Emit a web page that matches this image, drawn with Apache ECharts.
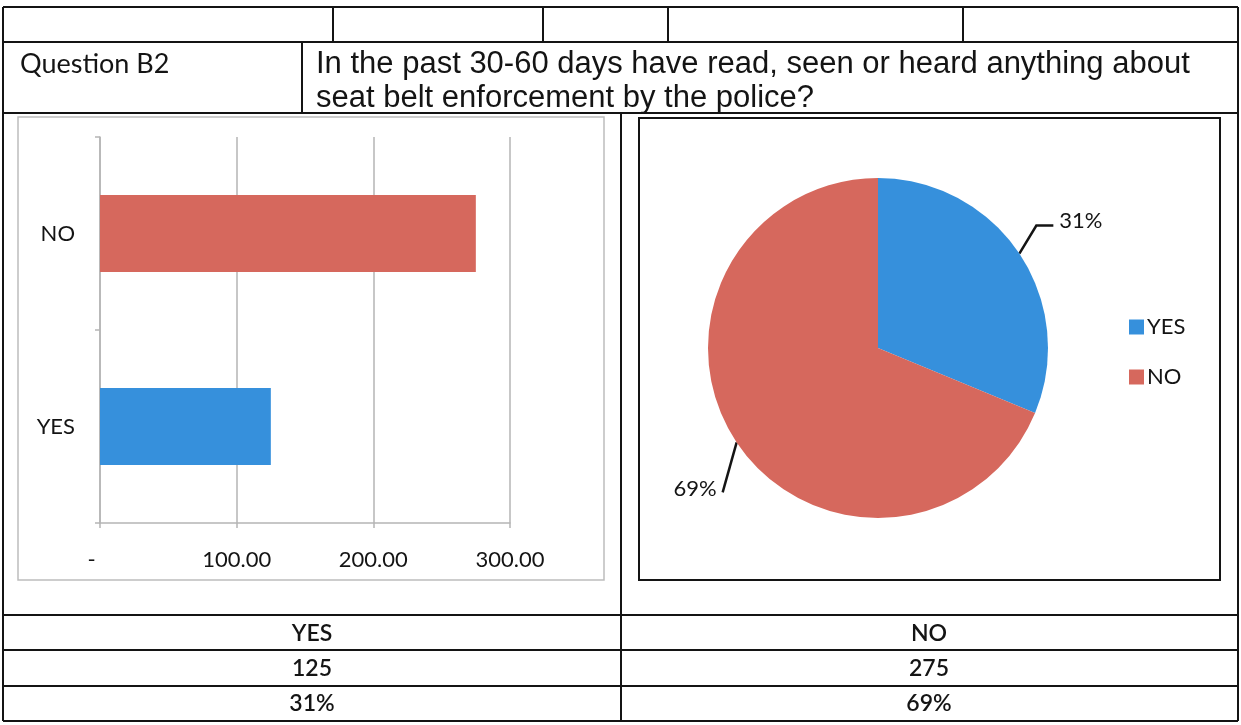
<!DOCTYPE html>
<html>
<head>
<meta charset="utf-8">
<script src="https://cdn.jsdelivr.net/npm/echarts@6/dist/echarts.min.js"></script>
<style>
html,body{margin:0;padding:0;background:#fff;}
#c{width:1241px;height:725px;}
</style>
</head>
<body>
<div id="c"></div>
<script>
// ---- data ----
const categories = ['YES', 'NO'];
const counts = [125, 275];
const barColors = ['#3690dc', '#d6685d'];
const xTicks = [0, 100, 200, 300];
const questionId = 'Question B2';
const questionLines = ['In the past 30-60 days have read, seen or heard anything about',
                       'seat belt enforcement by the police?'];
const tableHeaders = ['YES', 'NO'];
const tableCounts = ['125', '275'];
const tablePercents = ['31%', '69%'];

const chart = echarts.init(document.getElementById('c'));
const ink = '#141414';
const calibri = 'Lato, "Open Sans", sans-serif';
const arial = '"Liberation Sans", Arial, sans-serif';

function line(x1, y1, x2, y2, w, color, dash) {
  return { type: 'line', silent: true, z: 10,
    shape: { x1, y1, x2, y2 },
    style: { stroke: color || ink, lineWidth: w || 2, lineDash: dash || null } };
}
function text(str, x, y, font, size, align, weight) {
  return { type: 'text', silent: true, z: 10,
    style: { text: str, x, y, fill: ink, font: (weight || 'normal') + ' ' + size + 'px ' + font,
             textAlign: align || 'left', textVerticalAlign: 'middle' } };
}

const g = [];
// outer frame
g.push(line(3, 7, 1238, 7));
g.push(line(3, 42, 1238, 42));
g.push(line(3, 113, 1238, 113));
g.push(line(3, 615, 1238, 615));
g.push(line(3, 650, 1238, 650));
g.push(line(3, 686, 1238, 686));
g.push(line(3, 721, 1238, 721));
g.push(line(3, 7, 3, 721));
g.push(line(1238, 7, 1238, 721));
[333, 543, 668, 963].forEach(x => g.push(line(x, 7, x, 42)));
g.push(line(302, 42, 302, 113));
g.push(line(621, 113, 621, 721));
// chart frames
g.push({ type: 'rect', silent: true, z: 1, shape: { x: 18, y: 117, width: 586, height: 463 },
  style: { fill: 'none', stroke: '#bdbdbd', lineWidth: 1.5 } });
g.push({ type: 'rect', silent: true, z: 1, shape: { x: 639, y: 118, width: 581, height: 462 },
  style: { fill: 'none', stroke: ink, lineWidth: 2 } });
// texts
g.push(text(questionId, 20, 64, calibri, 27));
g.push(text(questionLines[0], 316, 64, arial, 31));
g.push(text(questionLines[1], 316, 98, arial, 31));
[[0, 312], [1, 929]].forEach(([i, x]) => {
  g.push(text(tableHeaders[i], x, 634, calibri, 23, 'center', 600));
  g.push(text(tableCounts[i], x, 669, calibri, 23, 'center', 600));
  g.push(text(tablePercents[i], x, 704, calibri, 23, 'center', 600));
});

const option = {
  animation: false,
  backgroundColor: '#fff',
  graphic: g,
  legend: {
    orient: 'vertical', left: 1124, top: 311,
    itemWidth: 15, itemHeight: 15, itemGap: 28,
    icon: 'rect',
    data: categories,
    textStyle: { fontFamily: calibri, fontSize: 22, color: ink, padding: [0, 0, 0, -2] }
  },
  grid: { left: 100, top: 137, width: 410, height: 386, containLabel: false },
  xAxis: {
    type: 'value', min: xTicks[0], max: xTicks[xTicks.length - 1], interval: 100,
    axisLine: { show: true, lineStyle: { color: '#b5b5b5', width: 1.5 } },
    axisTick: { show: true, length: 5, lineStyle: { color: '#b5b5b5', width: 1.5 } },
    splitLine: { show: true, lineStyle: { color: '#b5b5b5', width: 1.5 } },
    axisLabel: { margin: 26, color: ink, fontFamily: calibri, fontSize: 22,
      formatter: v => v === 0 ? '-   ' : v.toFixed(2) }
  },
  yAxis: {
    type: 'category', data: categories,
    axisLine: { show: true, lineStyle: { color: '#b5b5b5', width: 1.5 } },
    axisTick: { show: true, length: 5, lineStyle: { color: '#b5b5b5', width: 1.5 } },
    axisLabel: { margin: 25, color: ink, fontFamily: calibri, fontSize: 22,
      padding: [8, 0, 0, 0] }
  },
  series: [
    {
      type: 'bar', barWidth: '40%',
      data: counts.map((v, i) => ({ value: v, itemStyle: { color: barColors[i] } })),
      z: 3
    },
    {
      type: 'pie', center: [878, 348], radius: 170, startAngle: 90, clockwise: true,
      data: categories.map((c, i) => ({ name: c, value: counts[i], itemStyle: { color: barColors[i] } })),
      label: { show: true, position: 'outside', color: ink, fontFamily: calibri, fontSize: 22,
        formatter: p => Math.round(p.percent) + '%' },
      labelLine: { show: true, length: 30, length2: 16, smooth: false,
        lineStyle: { color: ink, width: 2.5 } },
      labelLayout: function (p) {
        const pts = p.labelLinePoints;
        if (!pts) return {};
        const a = pts[0];
        if (p.dataIndex === 0) {
          const b = [a[0] + 17, a[1] - 28];
          const c = [b[0] + 17, b[1]];
          return { x: c[0] + 6, y: c[1] - 5, labelLinePoints: [a, b, c] };
        }
        const b = [a[0] - 14, a[1] + 50];
        return { x: b[0] - 6, y: b[1] - 4, labelLinePoints: [a, b, b] };
      },
      emphasis: { disabled: true }
    }
  ]
};
chart.setOption(option);
</script>
</body>
</html>
